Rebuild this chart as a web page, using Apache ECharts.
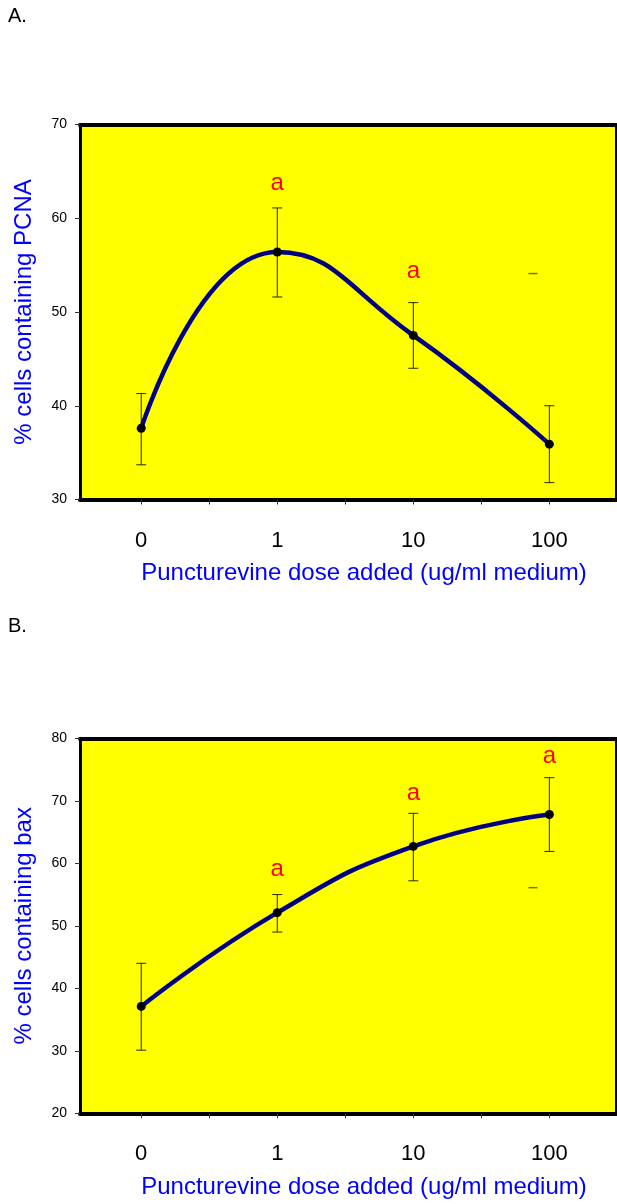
<!DOCTYPE html>
<html>
<head>
<meta charset="utf-8">
<script src="https://cdn.jsdelivr.net/npm/echarts@6/dist/echarts.min.js"></script>
<style>
  html, body { margin: 0; padding: 0; background: #fff; }
  #chart { width: 617px; height: 1204px; }
</style>
</head>
<body>
<div id="chart"></div>
<script>
// ---- data ----
const doseLabels = ['0', '1', '10', '100'];
const dosePos = [0, 1, 2, 3];

const pcnaMean = [37.6, 56.4, 47.5, 35.9];
const pcnaHigh = [41.3, 61.1, 51.0, 40.0];
const pcnaLow  = [33.7, 51.6, 44.0, 31.8];
const pcnaSigY = [null, 63.7, 54.3, null];   // where the significance letter "a" sits
const pcnaStray = [[2.88, 54.1]];            // stray cap mark in the original figure

const baxMean = [37.1, 52.1, 62.7, 67.8];
const baxHigh = [44.0, 55.0, 68.0, 73.7];
const baxLow  = [30.1, 49.0, 57.2, 61.9];
const baxSigY = [null, 59.0, 71.2, 77.1];
const baxStray = [[2.88, 56.1]];

const panelLabels = ['A.', 'B.'];
const yNames = ['% cells containing PCNA', '% cells containing bax'];
const xName = 'Puncturevine dose added (ug/ml medium)';

// ---- chart ----
const FONT = 'Liberation Sans, Arial, sans-serif';
const chart = echarts.init(document.getElementById('chart'), null, { renderer: 'canvas' });

const grids = [
  { left: 80, top: 124.5, width: 536, height: 375 },
  { left: 80, top: 738.3, width: 536, height: 375 }
];

function xAxes(gi) {
  const base = { gridIndex: gi, type: 'value', min: -0.45, max: 3.49, splitLine: { show: false } };
  return [
    Object.assign({}, base, {
      position: 'bottom',
      axisLine: { show: true, onZero: false, lineStyle: { color: '#000', width: 4 } },
      axisTick: { show: true, length: 5, inside: false, lineStyle: { color: '#333', width: 1 },
                  customValues: [0, 0.5, 1, 1.5, 2, 2.5, 3] },
      axisLabel: { show: true, customValues: dosePos, margin: 30, fontSize: 22, color: '#000', fontFamily: FONT,
                   formatter: v => doseLabels[Math.round(v)] },
      name: xName, nameLocation: 'middle', nameGap: 62,
      nameTextStyle: { color: '#0000ff', fontSize: 24, fontFamily: FONT, padding: [0, 0, 0, 32] }
    }),
    Object.assign({}, base, {
      position: 'top',
      axisLine: { show: true, onZero: false, lineStyle: { color: '#000', width: 4 } },
      axisTick: { show: false }, axisLabel: { show: false }
    })
  ];
}

function yAxis(gi, min, max, name) {
  return {
    gridIndex: gi, type: 'value', min: min, max: max, interval: 10, position: 'left',
    splitLine: { show: false },
    axisLine: { show: true, onZero: false, lineStyle: { color: '#000', width: 3 } },
    axisTick: { show: true, length: 5, lineStyle: { color: '#333', width: 1 } },
    axisLabel: { margin: 13, fontSize: 14, color: '#000', fontFamily: FONT },
    name: name, nameLocation: 'middle', nameGap: 44,
    nameTextStyle: { color: '#0000ff', fontSize: 24, fontFamily: FONT }
  };
}

function zip(xs, ys) { return xs.map((x, i) => [x, ys[i]]); }

function errSeries(xi, yi, low, high) {
  return {
    type: 'custom', xAxisIndex: xi, yAxisIndex: yi, z: 3,
    data: dosePos.map((x, i) => [x, low[i], high[i]]),
    renderItem: function (params, api) {
      const x = api.value(0);
      const lo = api.coord([x, api.value(1)]);
      const hi = api.coord([x, api.value(2)]);
      const hw = 5;
      const st = { stroke: '#2a2a00', lineWidth: 1 };
      return { type: 'group', children: [
        { type: 'line', shape: { x1: lo[0], y1: lo[1], x2: hi[0], y2: hi[1] }, style: st },
        { type: 'line', shape: { x1: lo[0] - hw, y1: lo[1], x2: lo[0] + hw, y2: lo[1] }, style: st },
        { type: 'line', shape: { x1: hi[0] - hw, y1: hi[1], x2: hi[0] + hw, y2: hi[1] }, style: st }
      ]};
    }
  };
}

function sigSeries(xi, yi, sig) {
  return {
    type: 'custom', xAxisIndex: xi, yAxisIndex: yi, z: 5,
    data: dosePos.map((x, i) => [x, sig[i]]).filter(d => d[1] != null),
    renderItem: function (params, api) {
      const p = api.coord([api.value(0), api.value(1)]);
      return { type: 'text', x: p[0], y: p[1],
        style: { text: 'a', fill: '#ff0000', font: '24px ' + FONT, textAlign: 'center', textVerticalAlign: 'middle' } };
    }
  };
}

function lineSeries(xi, yi, mean) {
  return {
    type: 'line', xAxisIndex: xi, yAxisIndex: yi, z: 4,
    data: zip(dosePos, mean), smooth: 0.5,
    lineStyle: { color: '#000080', width: 4.5 },
    symbol: 'circle', symbolSize: 9,
    itemStyle: { color: '#000', borderWidth: 0 }
  };
}

function straySeries(xi, yi, pts) {
  return {
    type: 'scatter', xAxisIndex: xi, yAxisIndex: yi, z: 3,
    data: pts, symbol: 'rect', symbolSize: [9, 1.5],
    itemStyle: { color: '#555500' }, silent: true
  };
}

const option = {
  backgroundColor: '#ffffff',
  animation: false,
  grid: grids.map(g => Object.assign({ show: true, backgroundColor: '#ffff00', borderColor: '#000', borderWidth: 2 }, g)),
  xAxis: [].concat(xAxes(0), xAxes(1)),
  yAxis: [yAxis(0, 30, 70, yNames[0]), yAxis(1, 20, 80, yNames[1])],
  graphic: [
    { type: 'text', left: 8, top: 6, style: { text: panelLabels[0], font: '20px ' + FONT, fill: '#000' } },
    { type: 'text', left: 8, top: 616, style: { text: panelLabels[1], font: '20px ' + FONT, fill: '#000' } }
  ],
  series: [
    errSeries(0, 0, pcnaLow, pcnaHigh),
    lineSeries(0, 0, pcnaMean),
    sigSeries(0, 0, pcnaSigY),
    straySeries(0, 0, pcnaStray),
    errSeries(2, 1, baxLow, baxHigh),
    lineSeries(2, 1, baxMean),
    sigSeries(2, 1, baxSigY),
    straySeries(2, 1, baxStray)
  ]
};
chart.setOption(option);
</script>
</body>
</html>
